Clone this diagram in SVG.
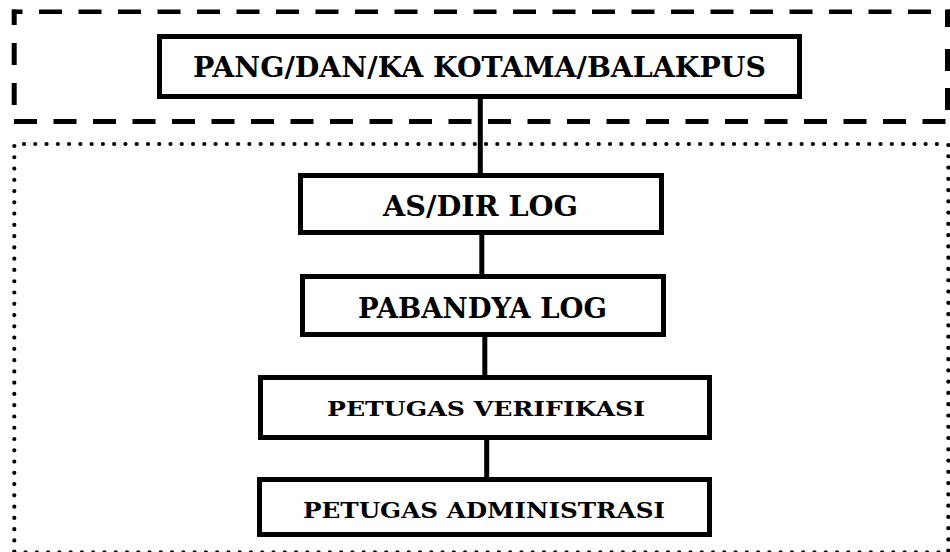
<svg xmlns="http://www.w3.org/2000/svg" width="950" height="552" viewBox="0 0 950 552">
<style>
.box{fill:#fff;stroke:#000;stroke-width:5}
.lbl{font-family:"DejaVu Serif","Liberation Serif",serif;font-weight:bold;fill:#000;text-anchor:middle}
.dash{stroke:#000;fill:none}
.dot{stroke:#000;fill:none;stroke-width:4.2;stroke-linecap:round;stroke-dasharray:0 11.27}
.conn{stroke:#000;stroke-width:5;fill:none}
</style>
<rect width="950" height="552" fill="#fff"/>
<g id="frame-dashed">
<line class="dash" x1="12" y1="11.7" x2="950" y2="11.7" stroke-width="4.5" stroke-dasharray="23 16.5" stroke-dashoffset="12.5"/>
<line class="dash" x1="14" y1="121.5" x2="946" y2="121.5" stroke-width="5" stroke-dasharray="23 16.5"/>
<path class="dash" stroke-width="5" d="M14.2 9.5V25M14.2 43V65M14.2 83V105"/>
<path class="dash" stroke-width="5" d="M947.5 9.5V27M947.5 49V71M947.5 88V110"/>
</g>
<g id="frame-dotted">
<line class="dot" x1="24" y1="144" x2="940" y2="144"/>
<line class="dot" x1="14.3" y1="146" x2="14.3" y2="552"/>
<line class="dot" x1="948.3" y1="145" x2="948.3" y2="552"/>
<line class="dot" x1="14.3" y1="552.3" x2="948.3" y2="552.3"/>
</g>
<g id="connectors">
<line class="conn" x1="480.3" y1="99" x2="480.3" y2="175"/>
<line class="conn" x1="481.8" y1="234" x2="481.8" y2="276"/>
<line class="conn" x1="484.8" y1="336" x2="484.8" y2="377"/>
<line class="conn" x1="486.7" y1="439" x2="486.7" y2="479"/>
</g>
<g id="node-pang">
<rect class="box" x="159.5" y="36.5" width="640" height="60"/>
<text class="lbl" x="479.5" y="76.5" font-size="27" textLength="573" lengthAdjust="spacingAndGlyphs">PANG/DAN/KA KOTAMA/BALAKPUS</text>
</g>
<g id="node-asdir">
<rect class="box" x="300.5" y="175.5" width="361" height="57"/>
<text class="lbl" x="480.5" y="215.5" font-size="27" textLength="195" lengthAdjust="spacingAndGlyphs">AS/DIR LOG</text>
</g>
<g id="node-pabandya">
<rect class="box" x="302.5" y="276.5" width="361" height="58"/>
<text class="lbl" x="482.5" y="317.5" font-size="27" textLength="249" lengthAdjust="spacingAndGlyphs">PABANDYA LOG</text>
</g>
<g id="node-verifikasi">
<rect class="box" x="260.5" y="377.5" width="449" height="60"/>
<text class="lbl" x="486" y="415.5" font-size="21" textLength="318" lengthAdjust="spacingAndGlyphs">PETUGAS VERIFIKASI</text>
</g>
<g id="node-administrasi">
<rect class="box" x="259.5" y="479.5" width="450" height="55"/>
<text class="lbl" x="484" y="517.5" font-size="23" textLength="362" lengthAdjust="spacingAndGlyphs">PETUGAS ADMINISTRASI</text>
</g>
</svg>
